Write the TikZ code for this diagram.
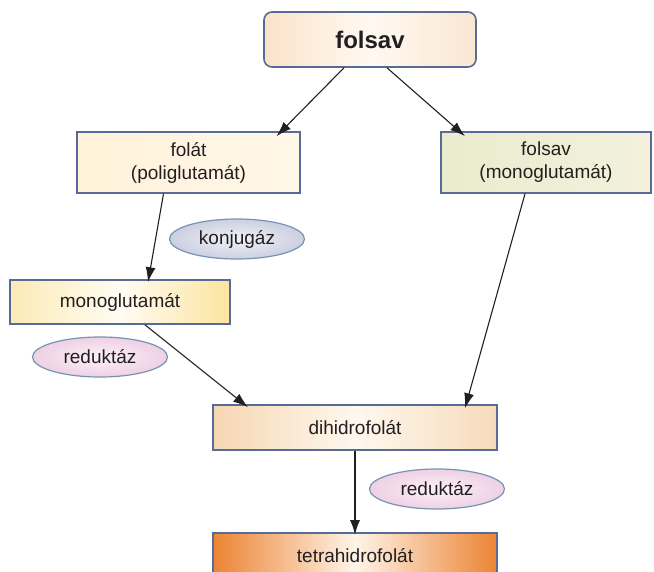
\documentclass[tikz,border=0pt]{standalone}
\usepackage{fontspec}
\setmainfont{Liberation Sans}
\usepackage{tikz}
\usetikzlibrary{arrows.meta, shapes.geometric}
\usepackage{xcolor}
\definecolor{boxline}{RGB}{88,106,150}
\definecolor{ovalline}{RGB}{118,148,178}
\definecolor{inktext}{RGB}{35,31,32}

\begin{document}
\begin{tikzpicture}[x=1pt, y=-1pt, ->, >={Latex[length=15pt,width=10pt]},
            line width=1.1pt, draw=inktext, text=inktext,
            every node/.style={font=\fontsize{19}{23}\selectfont, align=center, inner sep=0pt},
            stage/.style={rectangle, draw=boxline, line width=1.6pt, minimum height=45pt},
            enzyme/.style={ellipse, draw=ovalline, line width=1.2pt,
            minimum width=135pt, minimum height=40pt}]
          \clip (0,0) rectangle (654,571);
          % substances
          \node[stage, rounded corners=8pt, minimum width=212pt, minimum height=55pt,
                left color={rgb,255:red,250;green,226;blue,201}, right color={rgb,255:red,250;green,230;blue,210},
                middle color={rgb,255:red,255;green,249;blue,242}] (fs) at (370,39.5)
                {\fontsize{24}{28}\selectfont\bfseries folsav};
          \node[stage, minimum width=223pt, minimum height=61pt,
                left color={rgb,255:red,255;green,242;blue,218}, right color={rgb,255:red,255;green,247;blue,232}]
                (poli) at (188.5,162.5) {folát\\(poliglutamát)};
          \node[stage, minimum width=210pt, minimum height=61pt,
                left color={rgb,255:red,234;green,235;blue,206}, right color={rgb,255:red,243;green,241;blue,220}]
                (mono) at (546,162.5) {folsav\\(monoglutamát)};
          \node[stage, minimum width=220pt, minimum height=44pt,
                left color={rgb,255:red,252;green,234;blue,182}, right color={rgb,255:red,252;green,228;blue,160},
                middle color={rgb,255:red,255;green,252;blue,242}] (mg) at (120,302) {monoglutamát};
          \node[stage, minimum width=284pt,
                left color={rgb,255:red,246;green,214;blue,178}, right color={rgb,255:red,246;green,218;blue,186},
                middle color={rgb,255:red,255;green,248;blue,238}] (dhf) at (355,427.5) {dihidrofolát};
          \node[stage, minimum width=284pt,
                left color={rgb,255:red,236;green,132;blue,52}, right color={rgb,255:red,236;green,132;blue,52},
                middle color={rgb,255:red,255;green,244;blue,232}] (thf) at (355,555.5) {tetrahidrofolát};
          % enzymes
          \node[enzyme, outer color={rgb,255:red,204;green,207;blue,224}, inner color={rgb,255:red,240;green,241;blue,247}]
                (konj) at (237,239) {konjugáz};
          \node[enzyme, outer color={rgb,255:red,238;green,208;blue,228}, inner color={rgb,255:red,252;green,242;blue,248}]
                (red1) at (100,357) {reduktáz};
          \node[enzyme, outer color={rgb,255:red,238;green,208;blue,228}, inner color={rgb,255:red,252;green,242;blue,248}]
                (red2) at (437,489) {reduktáz};
          \path ([xshift=-26pt]fs.south) edge ([xshift=88pt,yshift=-5pt]poli.north)
                ([xshift=17pt]fs.south) edge ([xshift=-81pt,yshift=-5pt]mono.north)
                ([xshift=-25pt]poli.south) edge ([xshift=28pt,yshift=-3pt]mg.north)
                ([xshift=-21pt]mono.south) edge ([xshift=110pt,yshift=-4pt]dhf.north)
                ([xshift=25pt]mg.south) edge ([xshift=-107pt,yshift=-3pt]dhf.north)
                (dhf) edge[line width=2pt] ([yshift=-3pt]thf.north);
        \end{tikzpicture}
\end{document}
